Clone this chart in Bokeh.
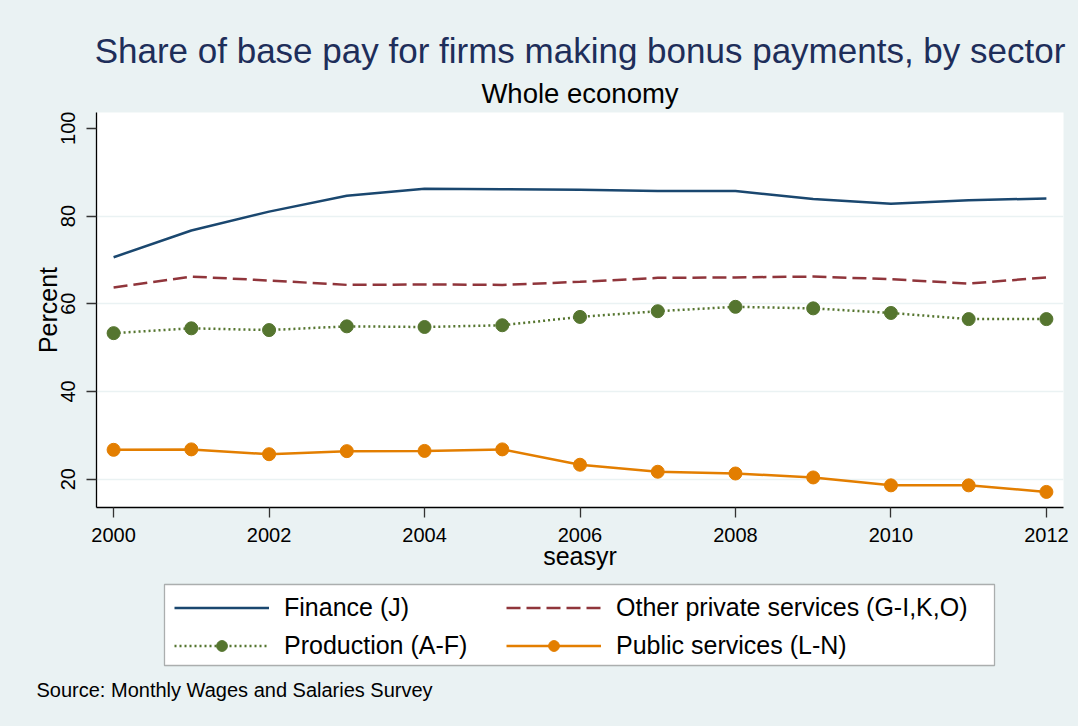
from bokeh.plotting import figure
from bokeh.models import Range1d, FixedTicker, Legend, LegendItem, Title, Label, BoxAnnotation
from bokeh.layouts import column
from bokeh.embed import file_html
from bokeh.resources import INLINE

years = [2000, 2001, 2002, 2003, 2004, 2005, 2006, 2007, 2008, 2009, 2010, 2011, 2012]
finance = [70.6, 76.7, 81.0, 84.6, 86.2, 86.1, 86.0, 85.7, 85.7, 83.9, 82.8, 83.6, 84.0]
other_private = [63.7, 66.2, 65.3, 64.3, 64.4, 64.3, 65.0, 65.9, 66.0, 66.2, 65.6, 64.6, 66.0]
production = [53.3, 54.4, 54.0, 54.85, 54.7, 55.1, 57.0, 58.3, 59.3, 58.95, 57.9, 56.5, 56.5]
public = [26.7, 26.8, 25.7, 26.4, 26.45, 26.8, 23.3, 21.7, 21.3, 20.4, 18.6, 18.6, 17.1]

x_ticks = [2000, 2002, 2004, 2006, 2008, 2010, 2012]
y_ticks = [20, 40, 60, 80, 100]
grid_ticks = [20, 40, 60, 80]

title_text = "Share of base pay for firms making bonus payments, by sector"
subtitle_text = "Whole economy"
source_text = "Source: Monthly Wages and Salaries Survey"
labels = ["Finance (J)", "Other private services (G-I,K,O)", "Production (A-F)", "Public services (L-N)"]

BG = "#EAF2F3"
NAVY = "#1A476F"
MAROON = "#90353B"
GREEN = "#55752F"
ORANGE = "#E37E00"
FONT = "Liberation Sans"

W = 1078
H1 = 580
H2 = 726 - H1

# ---------------- main chart ----------------
p = figure(width=W, height=H1, output_backend="svg", toolbar_location=None,
           title_location=None,
           x_range=Range1d(1999.78, 2012.22), y_range=Range1d(13.55, 103.6),
           min_border_left=96, min_border_right=15, min_border_top=112, min_border_bottom=H1 - 507)
p.frame_align = False
p.background_fill_color = "white"
p.border_fill_color = BG
p.outline_line_color = None

p.xgrid.grid_line_color = None
p.ygrid.ticker = FixedTicker(ticks=grid_ticks)
p.ygrid.grid_line_color = BG
p.ygrid.grid_line_width = 1.5

for ax in (p.xaxis[0], p.yaxis[0]):
    ax.axis_line_color = "black"
    ax.axis_line_width = 1.3
    ax.major_tick_line_color = "#333333"
    ax.major_tick_line_width = 1.3
    ax.major_tick_out = 10
    ax.major_tick_in = 0
    ax.minor_tick_line_color = None
    ax.major_label_text_font = FONT
    ax.major_label_text_font_size = "20px"
    ax.major_label_text_color = "black"
    ax.axis_label_text_font = FONT
    ax.axis_label_text_font_size = "25px"
    ax.axis_label_text_font_style = "normal"
    ax.axis_label_text_color = "black"

p.xaxis.ticker = FixedTicker(ticks=x_ticks)
p.yaxis.ticker = FixedTicker(ticks=y_ticks)
p.xaxis.axis_label = "seasyr"
p.yaxis.axis_label = "Percent"
p.yaxis.major_label_orientation = "vertical"
p.xaxis.major_label_standoff = 10
p.yaxis.major_label_standoff = 11
p.xaxis.axis_label_standoff = -3
p.yaxis.axis_label_standoff = -3


def draw(fig):
    r_fin = fig.line(years, finance, line_color=NAVY, line_width=2.5)
    r_oth = fig.line(years, other_private, line_color=MAROON, line_width=2.5, line_dash="14 6")
    r_pro_l = fig.line(years, production, line_color=GREEN, line_width=2.5, line_dash="2 3")
    r_pro_c = fig.scatter(years, production, size=13, fill_color=GREEN, line_color=GREEN)
    r_pub_l = fig.line(years, public, line_color=ORANGE, line_width=2.5)
    r_pub_c = fig.scatter(years, public, size=13, fill_color=ORANGE, line_color=ORANGE)
    return r_fin, r_oth, (r_pro_l, r_pro_c), (r_pub_l, r_pub_c)


draw(p)

p.add_layout(Title(text=subtitle_text, align="center", text_font=FONT, text_font_size="27.5px",
                   text_font_style="normal", text_color="black", standoff=7), "above")
p.add_layout(Title(text=title_text, align="center", text_font=FONT, text_font_size="35px",
                   text_font_style="normal", text_color="#1E2E5A", standoff=5), "above")

# ---------------- legend + note strip (1 unit = 1 px) ----------------
q = figure(width=W, height=H2, output_backend="svg", toolbar_location=None,
           title_location=None, x_axis_location=None, y_axis_location=None,
           x_range=Range1d(0, W), y_range=Range1d(0, H2), min_border=0)
q.frame_align = False
q.background_fill_color = BG
q.border_fill_color = BG
q.outline_line_color = None
q.grid.grid_line_color = None

# legend frame box
q.add_layout(BoxAnnotation(left=164, right=994, top=H2 - 4, bottom=H2 - 85,
                           fill_color="white", fill_alpha=1,
                           line_color="black", line_width=1.3, level="underlay"))

l_fin, l_oth, l_pro, l_pub = draw(q)

legend = Legend(items=[
    LegendItem(label=labels[0], renderers=[l_fin]),
    LegendItem(label=labels[2], renderers=list(l_pro)),
    LegendItem(label=labels[1], renderers=[l_oth]),
    LegendItem(label=labels[3], renderers=list(l_pub)),
], location=(174, H2 - 80), ncols=2, orientation="vertical")
legend.glyph_width = 95
legend.glyph_height = 27
legend.label_height = 27
legend.label_width = 213
legend.label_standoff = 15
legend.spacing = 9
legend.padding = 10
legend.margin = 0
legend.label_text_font = FONT
legend.label_text_font_size = "25px"
legend.label_text_color = "black"
legend.border_line_color = None
legend.background_fill_alpha = 0
q.add_layout(legend, "center")

q.add_layout(Label(x=36, y=H2 - 109, x_units="screen", y_units="screen", text=source_text,
                   text_font=FONT, text_font_size="20px", text_color="black",
                   text_align="left", text_baseline="middle"))

layout = column(p, q, spacing=0, styles={"background-color": BG})
open("out.html", "w").write(file_html(layout, INLINE))
